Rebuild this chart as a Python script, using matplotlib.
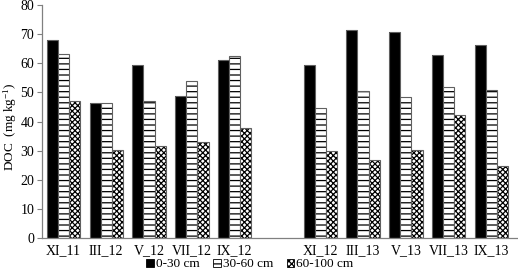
import matplotlib
matplotlib.use("Agg")
import matplotlib.pyplot as plt
import numpy as np
from matplotlib.patches import Patch

plt.rcParams['font.family'] = ['Liberation Serif', 'DejaVu Serif']
plt.rcParams['mathtext.fontset'] = 'custom'
plt.rcParams['mathtext.rm'] = 'Liberation Serif'
plt.rcParams['mathtext.it'] = 'Liberation Serif:italic'
plt.rcParams['hatch.linewidth'] = 0.9

categories = ["XI_11", "III_12", "V_12", "VII_12", "IX_12", "",
              "XI_12", "III_13", "V_13", "VII_13", "IX_13"]
series_names = ["0-30 cm", "30-60 cm", "60-100 cm"]
doc_0_30 = [68.0, 46.5, 59.3, 48.7, 61.0, np.nan, 59.4, 71.4, 70.9, 62.7, 66.4]
doc_30_60 = [63.2, 46.5, 47.0, 53.8, 62.5, np.nan, 44.8, 50.4, 48.3, 51.8, 50.7]
doc_60_100 = [47.0, 30.3, 31.7, 33.0, 37.8, np.nan, 29.8, 27.0, 30.2, 42.4, 24.9]
yticks = [0, 10, 20, 30, 40, 50, 60, 70, 80]

fig = plt.figure(figsize=(5.18, 2.79), dpi=100)
ax = fig.add_axes([42/518, 1-238.3/279, 1-42/518, (238.3-5)/279])

x = np.arange(len(categories))
w = 0.26
styles = [dict(color='black', hatch=None),
          dict(color='white', hatch='---'),
          dict(color='white', hatch='xxxxxx')]
edge = '#606060'
for i, (vals, st) in enumerate(zip([doc_0_30, doc_30_60, doc_60_100], styles)):
    xs = x + (i - 1) * w
    ax.bar(xs, vals, w, color=st['color'], hatch=st['hatch'], edgecolor='black', linewidth=0)
    ax.bar(xs, vals, w, fill=False, edgecolor=edge, linewidth=0.8)

ax.set_xlim(-0.5, 10.62)
ax.set_ylim(0, 80)
ax.set_yticks(yticks)
ax.set_xticks(x)
ax.set_xticklabels(categories, fontsize=10)
ax.tick_params(axis='x', length=0, pad=4)
ax.tick_params(axis='y', length=3.5, width=0.8, color='#808080', labelsize=10, pad=2)
for s in ['top', 'right']:
    ax.spines[s].set_visible(False)
for s in ['left', 'bottom']:
    ax.spines[s].set_color('#808080')
    ax.spines[s].set_linewidth(0.9)

fig.text(10/518, 1-127/279, r'DOC  (mg kg$^{-1}$)', fontsize=9.5,
         rotation=90, ha='center', va='center')

handles = [Patch(facecolor='black', edgecolor='black', linewidth=0.6),
           Patch(facecolor='white', edgecolor='black', hatch='---', linewidth=0.6),
           Patch(facecolor='white', edgecolor='black', hatch='xxxxxx', linewidth=0.6)]
fig.legend(handles, series_names, loc='center', bbox_to_anchor=(250/518, 0.052),
           ncol=3, frameon=False, fontsize=9.5, handlelength=0.6, handleheight=0.6,
           handletextpad=0.15, columnspacing=1.0)

fig.savefig('out.png', dpi=100)
